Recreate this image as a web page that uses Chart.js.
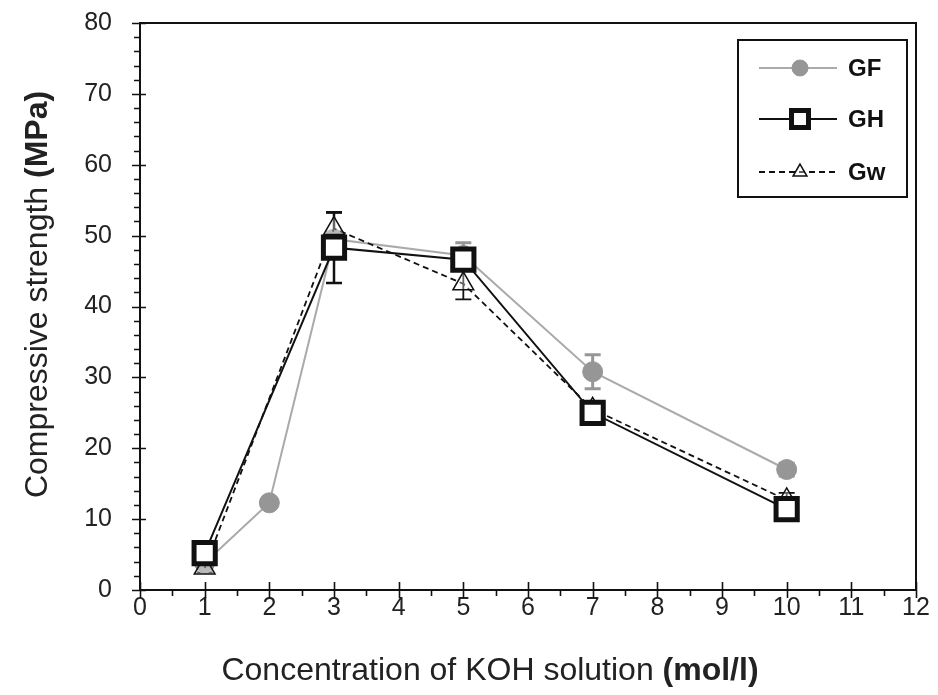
<!DOCTYPE html>
<html>
<head>
<meta charset="utf-8">
<script src="https://cdn.jsdelivr.net/npm/chart.js@4.4.1/dist/chart.umd.min.js"></script>
<style>
  html,body{margin:0;padding:0;background:#fff;}
  #wrap{position:relative;width:938px;height:695px;overflow:hidden;}
  #chart{position:absolute;left:0;top:-20px;}
</style>
</head>
<body>
<div id="wrap"><canvas id="chart" width="938" height="715"></canvas></div>
<script>
// KOH concentration (mol/l)
const gfConc=[1,2,3,5,7,10];
const gfValues=[3.8,12.3,49.5,47.2,30.8,17.0];
const gfErr=[0.5,0.6,1.0,1.8,2.4,0.9];

const ghConc=[1,3,5,7,10];
const ghValues=[5.2,48.3,46.6,25.0,11.4];
const ghErr=[0.8,5.0,1.0,1.2,1.0];

const gwConc=[1,3,5,7,10];
const gwValues=[3.1,51.0,43.2,25.5,12.7];
const gwErr=[0.6,2.2,2.2,1.0,1.0];

const xTicks=[0,1,2,3,4,5,6,7,8,9,10,11,12];
const yTicks=[0,10,20,30,40,50,60,70,80];

const labelFont='"Liberation Sans", Arial, sans-serif';

// the canvas sits this far above the page top (see the check at the bottom)
let shiftY=20;

function toPoints(xs,ys){
    return xs.map(function(x,i){ return {x:x,y:ys[i]}; });
}

// error bars, drawn under the markers
const errorBars={
    id:'errorBars',
    beforeDatasetsDraw(chart){
        const ctx=chart.ctx;
        const xs=chart.scales.x, ys=chart.scales.y;
        chart.data.datasets.forEach(function(ds){
            ctx.save();
            ctx.strokeStyle=ds.errColor;
            ctx.lineWidth=ds.errWidth;
            ds.data.forEach(function(p,i){
                const e=ds.errors[i];
                const px=xs.getPixelForValue(p.x);
                const top=ys.getPixelForValue(p.y+e);
                const bot=ys.getPixelForValue(p.y-e);
                ctx.beginPath();
                ctx.moveTo(px,top);ctx.lineTo(px,bot);
                ctx.moveTo(px-8,top);ctx.lineTo(px+8,top);
                ctx.moveTo(px-8,bot);ctx.lineTo(px+8,bot);
                ctx.stroke();
            });
            ctx.restore();
        });
    }
};

// frame, crossing ticks, axis titles and legend box
const decorations={
    id:'decorations',
    afterDraw(chart){
        const ctx=chart.ctx;
        const a=chart.chartArea;
        const xs=chart.scales.x, ys=chart.scales.y;
        const s=shiftY;
        ctx.save();
        ctx.strokeStyle='#111';
        ctx.lineWidth=2;
        ctx.strokeRect(a.left,a.top,a.right-a.left,a.bottom-a.top);

        ctx.lineWidth=1.6;
        ctx.beginPath();
        for(let v=0;v<=80;v+=2){
            const py=Math.round(ys.getPixelForValue(v))+0.5;
            if(v%10===0){ ctx.moveTo(a.left-8,py);ctx.lineTo(a.left+6,py); }
            else { ctx.moveTo(a.left-6,py);ctx.lineTo(a.left,py); }
        }
        for(let v=0;v<=12;v+=0.5){
            const px=Math.round(xs.getPixelForValue(v))+0.5;
            if(v%1===0){ ctx.moveTo(px,a.bottom-8);ctx.lineTo(px,a.bottom+8); }
            else { ctx.moveTo(px,a.bottom);ctx.lineTo(px,a.bottom+6); }
        }
        ctx.stroke();

        // axis titles with bold units
        ctx.fillStyle='#222';
        ctx.textBaseline='alphabetic';
        function mixed(x,y,plain,bold){
            ctx.font='32px '+labelFont;
            const w1=ctx.measureText(plain).width;
            ctx.font='bold 32px '+labelFont;
            const w2=ctx.measureText(bold).width;
            let sx=x-(w1+w2)/2;
            ctx.font='32px '+labelFont;
            ctx.textAlign='left';
            ctx.fillText(plain,sx,y);
            ctx.font='bold 32px '+labelFont;
            ctx.fillText(bold,sx+w1,y);
        }
        mixed(490,680+s,'Concentration of KOH solution ','(mol/l)');
        ctx.save();
        ctx.translate(47,(a.top+a.bottom)/2-12);
        ctx.rotate(-Math.PI/2);
        mixed(0,0,'Compressive strength ','(MPa)');
        ctx.restore();

        // legend
        const lx=738, ly=40+s, lw=169, lh=157;
        ctx.lineWidth=2;
        ctx.strokeStyle='#111';
        ctx.fillStyle='#fff';
        ctx.fillRect(lx,ly,lw,lh);
        ctx.strokeRect(lx,ly,lw,lh);
        const rows=[68,119,172];
        chart.data.datasets.forEach(function(ds,i){
            const y=rows[i]+s;
            ctx.save();
            ctx.strokeStyle=ds.borderColor;
            ctx.lineWidth=ds.borderWidth;
            ctx.setLineDash(ds.borderDash||[]);
            ctx.beginPath();ctx.moveTo(759,y);ctx.lineTo(837,y);ctx.stroke();
            ctx.setLineDash([]);
            ctx.fillStyle=ds.pointBackgroundColor;
            ctx.strokeStyle=ds.pointBorderColor;
            ctx.lineWidth=ds.pointBorderWidth;
            Chart.helpers.drawPoint(ctx,{pointStyle:ds.pointStyle,radius:ds.legendRadius,borderWidth:ds.pointBorderWidth,rotation:0},800,y);
            ctx.restore();
            ctx.fillStyle='#111';
            ctx.font='bold 24px '+labelFont;
            ctx.textAlign='left';
            ctx.textBaseline='middle';
            ctx.fillText(ds.label,848,y+1);
        });
        ctx.restore();
    }
};

let chart=document.getElementById("chart");

const myChart=new Chart(chart,{
    type:'line',
    data:{
        datasets:[
            {
                label:'GF',
                data:toPoints(gfConc,gfValues),
                errors:gfErr,
                errColor:'rgb(150,150,150)',
                errWidth:3,
                borderColor:'rgb(170,170,170)',
                borderWidth:2,
                pointStyle:'circle',
                pointRadius:10,
                legendRadius:8,
                pointBackgroundColor:'rgb(150,150,150)',
                pointBorderColor:'rgb(150,150,150)',
                pointBorderWidth:1,
                clip:false,
                order:2
            },
            {
                label:'GH',
                data:toPoints(ghConc,ghValues),
                errors:ghErr,
                errColor:'#111',
                errWidth:2.5,
                borderColor:'#111',
                borderWidth:2,
                pointStyle:'rect',
                pointRadius:15,
                legendRadius:12,
                pointBackgroundColor:'#fff',
                pointBorderColor:'#111',
                pointBorderWidth:5,
                clip:false,
                order:0
            },
            {
                label:'Gw',
                data:toPoints(gwConc,gwValues),
                errors:gwErr,
                errColor:'#111',
                errWidth:1.8,
                borderColor:'#111',
                borderWidth:1.8,
                borderDash:[6,4],
                pointStyle:'triangle',
                pointRadius:12,
                legendRadius:8,
                pointBackgroundColor:'rgba(255,255,255,0.35)',
                pointBorderColor:'#111',
                pointBorderWidth:1.5,
                clip:false,
                order:1
            }
        ]
    },
    options:{
        responsive:false,
        maintainAspectRatio:false,
        animation:false,
        layout:{autoPadding:false,padding:{top:23,right:22,left:0,bottom:0}},
        elements:{line:{tension:0}},
        plugins:{
            legend:{display:false},
            tooltip:{enabled:false}
        },
        scales:{
            x:{
                type:'linear',
                min:0,max:12,
                afterBuildTicks:function(s){ s.ticks=xTicks.map(function(v){return {value:v};}); },
                afterFit:function(s){ s.height=105; },
                grid:{display:false,drawTicks:false},
                border:{display:false},
                ticks:{padding:3,color:'#222',font:{family:labelFont,size:25}}
            },
            y:{
                type:'linear',
                min:0,max:80,
                afterBuildTicks:function(s){ s.ticks=yTicks.map(function(v){return {value:v};}); },
                afterFit:function(s){ s.width=140; },
                grid:{display:false,drawTicks:false},
                border:{display:false},
                ticks:{padding:28,color:'#222',font:{family:labelFont,size:25}}
            }
        }
    },
    plugins:[errorBars,decorations]
});

// keep the plot box at 23..590 on the page: grow the canvas and slide it up
for(let k=0;k<3;k++){
    const err=Math.round(myChart.chartArea.top-23-shiftY);
    if(err===0) break;
    shiftY=Math.max(0,shiftY+err);
    chart.style.top=(-shiftY)+'px';
    myChart.resize(938,695+shiftY);
}
</script>
</body>
</html>
